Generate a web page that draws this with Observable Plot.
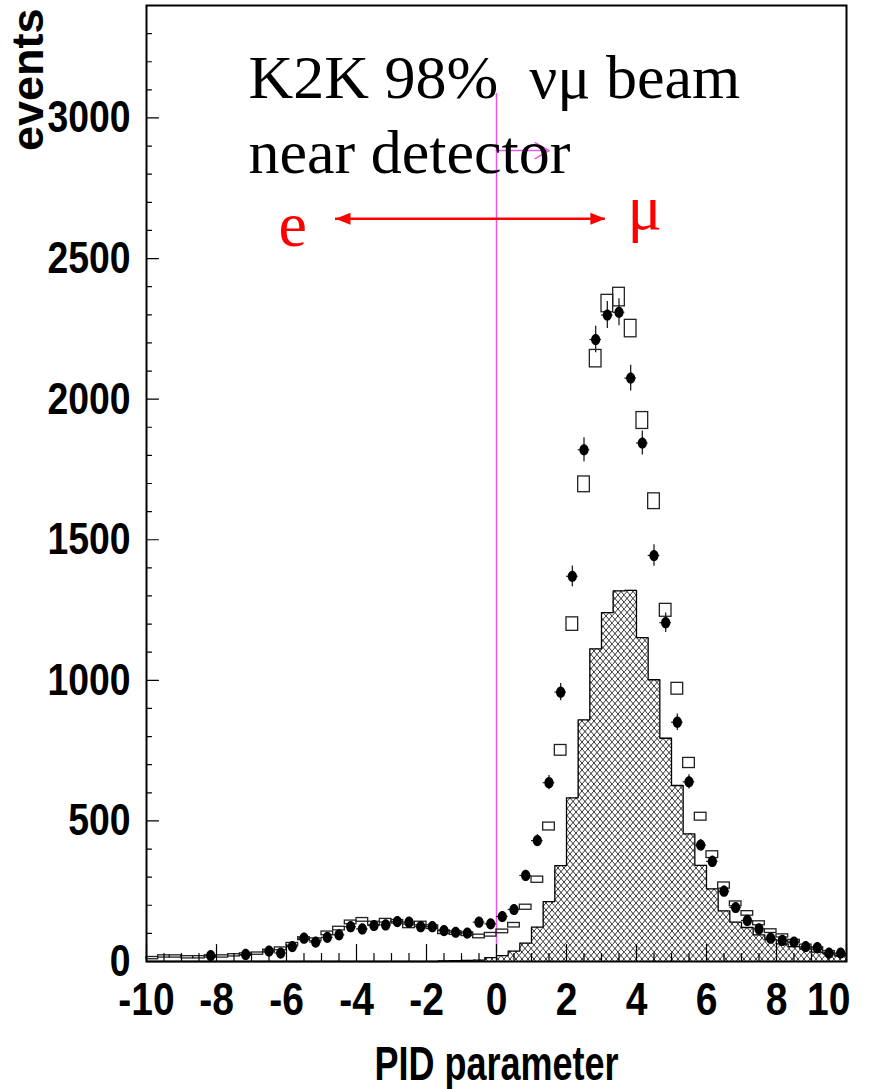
<!DOCTYPE html>
<html><head><meta charset="utf-8">
<script src="https://cdn.jsdelivr.net/npm/d3@7"></script>
<script src="https://cdn.jsdelivr.net/npm/@observablehq/plot@0.6"></script>
<style>body{margin:0;background:#fff}</style>
</head><body><div id="chart"></div>
<script>
// ---- data (60 bins of width 1/3 from -10 to 10) ----
const binLow = d3.range(60).map(i => -10 + i / 3);

// data points (null = no visible point)
const dataCounts = [null,null,null,null,null,21,null,null,25,null,
  37,30,53,83,69,86,95,124,116,128,
  130,142,140,124,124,110,104,101,140,134,
  160,185,306,430,636,958,1370,1820,2212,2299,
  2309,2075,1844,1444,1205,851,639,414,356,250,
  192,146,116,83,75,69,53,49,30,30];
const dataErrors = [null,null,null,null,null,4.6,null,null,5,null,
  6.1,5.5,7.3,9.1,8.3,9.3,9.7,11.1,10.8,11.3,
  11.4,11.9,11.8,11.1,11.1,10.5,10.2,10.0,11.8,11.6,
  12.6,13.6,17.5,20.7,25.2,31.0,37.0,42.7,47.0,47.9,
  48.1,45.6,42.9,38.0,34.7,29.2,25.3,20.3,18.9,15.8,
  13.9,12.1,10.8,9.1,8.7,8.3,7.3,7.0,5.5,5.5];

// Monte Carlo total (open boxes)
const mcCounts = [12,18,18,15,15,18,18,22,25,28,
  37,45,61,81,77,100,117,139,148,135,
  145,141,125,135,122,104,101,97,89,95,
  107,129,193,291,480,751,1200,1697,2144,2340,
  2363,2251,1924,1637,1249,970,706,515,380,270,
  205,171,136,108,91,72,55,46,33,22];
const mcErrors = [4,4,4,4,4,4,4,4,4,4,
  5,5,5,5,5,6.5,6.5,6.5,6.5,6.5,
  6.5,6.5,6.5,6.5,6.5,6.5,6.5,6.5,6.5,6.5,
  6.5,8,9,11,14,19,24,28,31,31,
  33,31,30,28,23,21,18,14,12,11,
  8.5,8,7,6.5,5.5,5,5,4.5,4,4];

// hatched MC component
const hatchCounts = [0,0,0,0,0,0,0,0,0,0,
  0,0,0,0,0,0,0,0,0,0,
  0,0,0,0,0,2,3,4,5,14,
  21,37,65,122,213,341,582,859,1112,1241,
  1318,1320,1152,1002,794,626,454,342,258,180,
  140,121,95,78,63,53,45,33,27,21];

const xTickValues = [-10,-8,-6,-4,-2,0,2,4,6,8,10];
const yTickValues = [0,500,1000,1500,2000,2500,3000];
const titleLines = ["K2K 98%  \u03bd\u03bc beam", "near detector"];
const xLabel = "PID parameter";
const yLabel = "events";
const eMuArrow = {x1: -4.6, x2: 3.11, y: 2642};
const cutLine = {x: 0, y2: 3087};
const cutArrow = {x1: 0, x2: 1.5, y: 2884};

const rows = binLow.map((lo, i) => ({
  lo, hi: lo + 1/3, mid: lo + 1/6,
  data: dataCounts[i], dataErr: dataErrors[i],
  mc: mcCounts[i], mcErr: mcErrors[i], hatch: hatchCounts[i]
}));
const dataRows = rows.filter(d => d.data != null);
const outline = rows.map(d => ({x: d.lo, y: d.hatch}))
  .concat([{x: rows[rows.length-1].hi, y: rows[rows.length-1].hatch}]);

const xMinor = d3.range(-10, 10.001, 0.5).filter(v => !xTickValues.includes(v));
const yMinor = d3.range(0, 3400, 100).filter(v => !yTickValues.includes(v));

const ellipse = {draw(ctx, size) {
  const r = Math.sqrt(size / Math.PI), rx = r * 0.82, ry = r, k = 0.5523;
  ctx.moveTo(rx, 0);
  ctx.bezierCurveTo(rx, ry*k, rx*k, ry, 0, ry);
  ctx.bezierCurveTo(-rx*k, ry, -rx, ry*k, -rx, 0);
  ctx.bezierCurveTo(-rx, -ry*k, -rx*k, -ry, 0, -ry);
  ctx.bezierCurveTo(rx*k, -ry, rx, -ry*k, rx, 0);
  ctx.closePath();
}};
const head = {draw(ctx, size) {
  const r = Math.sqrt(size / Math.PI);
  ctx.moveTo(r, 0); ctx.lineTo(-r, -r*0.8); ctx.lineTo(-r, r*0.8); ctx.closePath();
}};
const tickShape = {draw(ctx, l) { ctx.moveTo(0, 0); ctx.lineTo(0, -l); }};

const sans = "Liberation Sans, Arial, Helvetica, sans-serif";
const serif = "Liberation Serif, Times New Roman, serif";
const magenta = "#ee55ee";

const chart = Plot.plot({
  width: 876, height: 1089,
  marginLeft: 146, marginRight: 30, marginTop: 5, marginBottom: 128,
  x: {domain: [-10, 10], axis: null},
  y: {domain: [0, 3400], axis: null},
  style: {fontFamily: sans, background: "white", overflow: "visible"},
  marks: [
    Plot.rect(rows, {x1: "lo", x2: "hi", y1: 0, y2: "hatch", fill: "url(#xhatch)"}),
    Plot.line(outline, {x: "x", y: "y", curve: "step-after", stroke: "black", strokeWidth: 1.3}),
    Plot.ruleX([cutLine], {x: "x", y1: 0, y2: "y2", stroke: magenta, strokeWidth: 1.5}),
    Plot.arrow([cutArrow], {x1: "x1", x2: "x2", y1: "y", y2: "y", stroke: magenta, strokeWidth: 1.5, headLength: 16}),
    Plot.rect(rows, {x1: "lo", x2: "hi", y1: d => d.mc - d.mcErr, y2: d => d.mc + d.mcErr,
      fill: "none", stroke: "#222", strokeWidth: 1.3}),
    Plot.ruleY(dataRows, {x1: "lo", x2: "hi", y: "data", stroke: "#222", strokeWidth: 1.2}),
    Plot.ruleX(dataRows, {x: "mid", y1: d => d.data - d.dataErr, y2: d => d.data + d.dataErr, stroke: "#222", strokeWidth: 1.3}),
    Plot.dot(dataRows, {x: "mid", y: "data", r: 5.6, symbol: ellipse, fill: "black", stroke: null}),
    Plot.frame({stroke: "black", strokeWidth: 2}),
    Plot.vector(xTickValues, {x: d => d, y: 0, length: 17, anchor: "start", shape: tickShape, stroke: "black", strokeWidth: 1.2}),
    Plot.vector(xMinor, {x: d => d, y: 0, length: 8, anchor: "start", shape: tickShape, stroke: "black", strokeWidth: 1.2}),
    Plot.vector(yTickValues, {x: -10, y: d => d, length: 12, rotate: 90, anchor: "start", shape: tickShape, stroke: "black", strokeWidth: 1.2}),
    Plot.vector(yMinor, {x: -10, y: d => d, length: 5, rotate: 90, anchor: "start", shape: tickShape, stroke: "black", strokeWidth: 1.2}),
    // tick labels
    Plot.text(xTickValues.slice(0, -1), {x: d => d, text: d => String(d), frameAnchor: "bottom", dy: 38, lineAnchor: "middle",
      fontSize: 47, fontWeight: "bold", fill: "black"}),
    Plot.text(xTickValues.slice(-1), {x: d => d, text: d => String(d), frameAnchor: "bottom", dy: 38, dx: 4, textAnchor: "end", lineAnchor: "middle",
      fontSize: 47, fontWeight: "bold", fill: "black"}),
    Plot.text(yTickValues, {y: d => d, text: d => String(d), frameAnchor: "left", dx: -16, textAnchor: "end", lineAnchor: "middle",
      fontSize: 45, fontWeight: "bold", fill: "black"}),
    Plot.text([xLabel], {frameAnchor: "bottom", dy: 118, lineAnchor: "bottom", fontSize: 48, fontWeight: "bold", fill: "black"}),
    Plot.text([yLabel], {frameAnchor: "top-left", dx: -104, dy: 3, rotate: -90, textAnchor: "end", lineAnchor: "bottom",
      fontSize: 45, fontWeight: "bold", fill: "black"}),
    // annotations
    Plot.text([titleLines[0]], {frameAnchor: "top-left", dx: 102, dy: 92, textAnchor: "start", lineAnchor: "bottom",
      fontFamily: serif, fontSize: 62, fill: "black"}),
    Plot.text([titleLines[1]], {frameAnchor: "top-left", dx: 102, dy: 167, textAnchor: "start", lineAnchor: "bottom",
      fontFamily: serif, fontSize: 62, fill: "black"}),
    Plot.ruleY([eMuArrow], {x1: "x1", x2: "x2", y: "y", stroke: "red", strokeWidth: 2.5}),
    Plot.dot([eMuArrow], {x: "x2", y: "y", symbol: head, r: 7.5, fill: "red", stroke: null, dx: -7.5}),
    Plot.dot([eMuArrow], {x: "x1", y: "y", symbol: head, r: 7.5, rotate: 180, fill: "red", stroke: null, dx: 7.5}),
    Plot.text(["e"], {frameAnchor: "top-left", dx: 132, dy: 240, textAnchor: "start", lineAnchor: "bottom",
      fontFamily: serif, fontSize: 64, fill: "red"}),
    Plot.text(["\u03bc"], {frameAnchor: "top-left", dx: 481, dy: 223, textAnchor: "start", lineAnchor: "bottom",
      fontFamily: serif, fontSize: 64, fill: "red"})
  ]
});

// cross-hatch pattern
const svgNS = "http://www.w3.org/2000/svg";
const defs = document.createElementNS(svgNS, "defs");
defs.innerHTML = '<pattern id="xhatch" patternUnits="userSpaceOnUse" width="6" height="7">' +
  '<rect width="6" height="7" fill="white"/>' +
  '<path d="M0,0L6,7M6,0L0,7" stroke="black" stroke-width="0.8"/></pattern>';
chart.insertBefore(defs, chart.firstChild);

// condensed bold labels (tick labels and the x-axis title)
function condense(el, k) {
  let t = el.getAttribute("transform") || "";
  const xa = el.getAttribute("x"), ya = el.getAttribute("y");
  if (xa != null && xa !== "" && !isNaN(+xa)) {
    let ty = 0;
    if (ya != null && ya !== "" && !isNaN(+ya)) { ty = +ya; el.removeAttribute("y"); }
    el.removeAttribute("x");
    t = t + " translate(" + (+xa) + "," + ty + ")";
  }
  el.setAttribute("transform", t + " scale(" + k + ",1)");
}
d3.select(chart).selectAll("text").each(function() {
  const s = this.textContent.trim();
  if (/^-?\d+$/.test(s)) condense(this, 0.83);
  else if (s === xLabel) condense(this, 0.75);
});

document.getElementById("chart").appendChild(chart);
</script>
</body></html>
